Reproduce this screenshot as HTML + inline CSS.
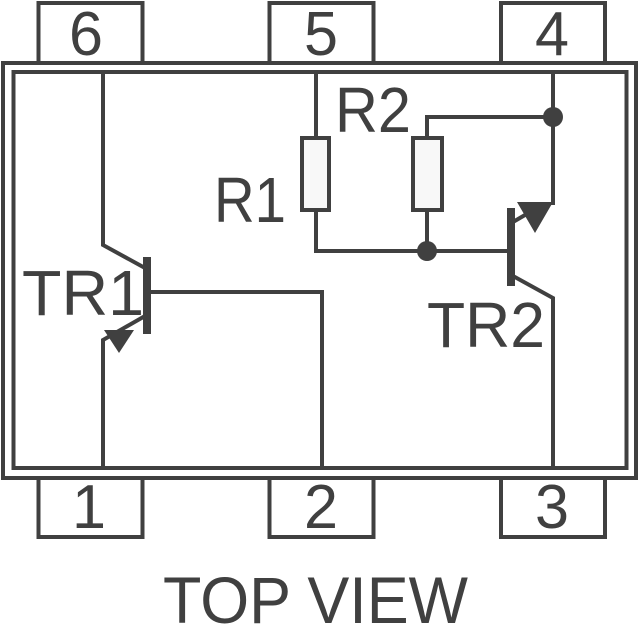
<!DOCTYPE html>
<html><head><style>body{margin:0;background:#fff}</style></head><body>
<svg width="640" height="640" viewBox="0 0 640 640" xmlns="http://www.w3.org/2000/svg" style="display:block">
<g fill="none" stroke="#404040" stroke-width="4">
<rect x="38.5" y="3" width="104" height="60"/>
<rect x="269.5" y="3" width="104" height="60"/>
<rect x="501" y="3" width="104" height="60"/>
<rect x="38.5" y="477" width="104" height="60"/>
<rect x="269.5" y="477" width="104" height="60"/>
<rect x="501" y="477" width="104" height="60"/>
</g>
<rect x="3" y="63" width="633" height="415" fill="#fff" stroke="#404040" stroke-width="4"/>
<rect x="13.5" y="72" width="613" height="396" fill="#fff" stroke="#404040" stroke-width="4"/>
<g fill="none" stroke="#404040" stroke-width="4">
<polyline points="103,74 103,245 145,268"/>
<polyline points="151,292 322,292 322,467"/>
<polyline points="145,316 103,340 103,467"/>
<polyline points="316,74 316,138"/>
<polyline points="316,210 316,251 510,251"/>
<polyline points="427,211 427,251"/>
<polyline points="427,138 427,117 553,117"/>
<polyline points="553,74 553,205"/>
<polyline points="513,222 537,208"/>
<polyline points="513,276 553,298 553,467"/>
</g>
<rect x="302" y="138" width="27" height="72" fill="#f8f8f8" stroke="#404040" stroke-width="4"/>
<rect x="413" y="138" width="29" height="72" fill="#f8f8f8" stroke="#404040" stroke-width="4"/>
<rect x="143" y="257" width="8" height="77" fill="#404040"/>
<rect x="507" y="208" width="8" height="78" fill="#404040"/>
<polygon points="104,330 134,330 119,353" fill="#404040"/>
<polygon points="517,202 553,202 535,233" fill="#404040"/>
<circle cx="427" cy="251" r="10" fill="#404040"/>
<circle cx="553" cy="117" r="10" fill="#404040"/>
<g font-family="Liberation Sans, sans-serif" fill="#404040" font-size="62">
<text x="69" y="55" textLength="34" lengthAdjust="spacingAndGlyphs">6</text>
<text x="304" y="55" textLength="34" lengthAdjust="spacingAndGlyphs">5</text>
<text x="535" y="55" textLength="34" lengthAdjust="spacingAndGlyphs">4</text>
<text x="72" y="528" textLength="34" lengthAdjust="spacingAndGlyphs">1</text>
<text x="304" y="528" textLength="34" lengthAdjust="spacingAndGlyphs">2</text>
<text x="535" y="528" textLength="34" lengthAdjust="spacingAndGlyphs">3</text>
<text x="22" y="315" font-size="64" textLength="122" lengthAdjust="spacingAndGlyphs">TR1</text>
<text x="427" y="347" font-size="64" textLength="118" lengthAdjust="spacingAndGlyphs">TR2</text>
<text x="214" y="222" font-size="64" textLength="72" lengthAdjust="spacingAndGlyphs">R1</text>
<text x="335" y="132" font-size="64" textLength="76" lengthAdjust="spacingAndGlyphs">R2</text>
<text x="163" y="623" font-size="66" textLength="305" lengthAdjust="spacingAndGlyphs">TOP VIEW</text>
</g>
</svg>
</body></html>
